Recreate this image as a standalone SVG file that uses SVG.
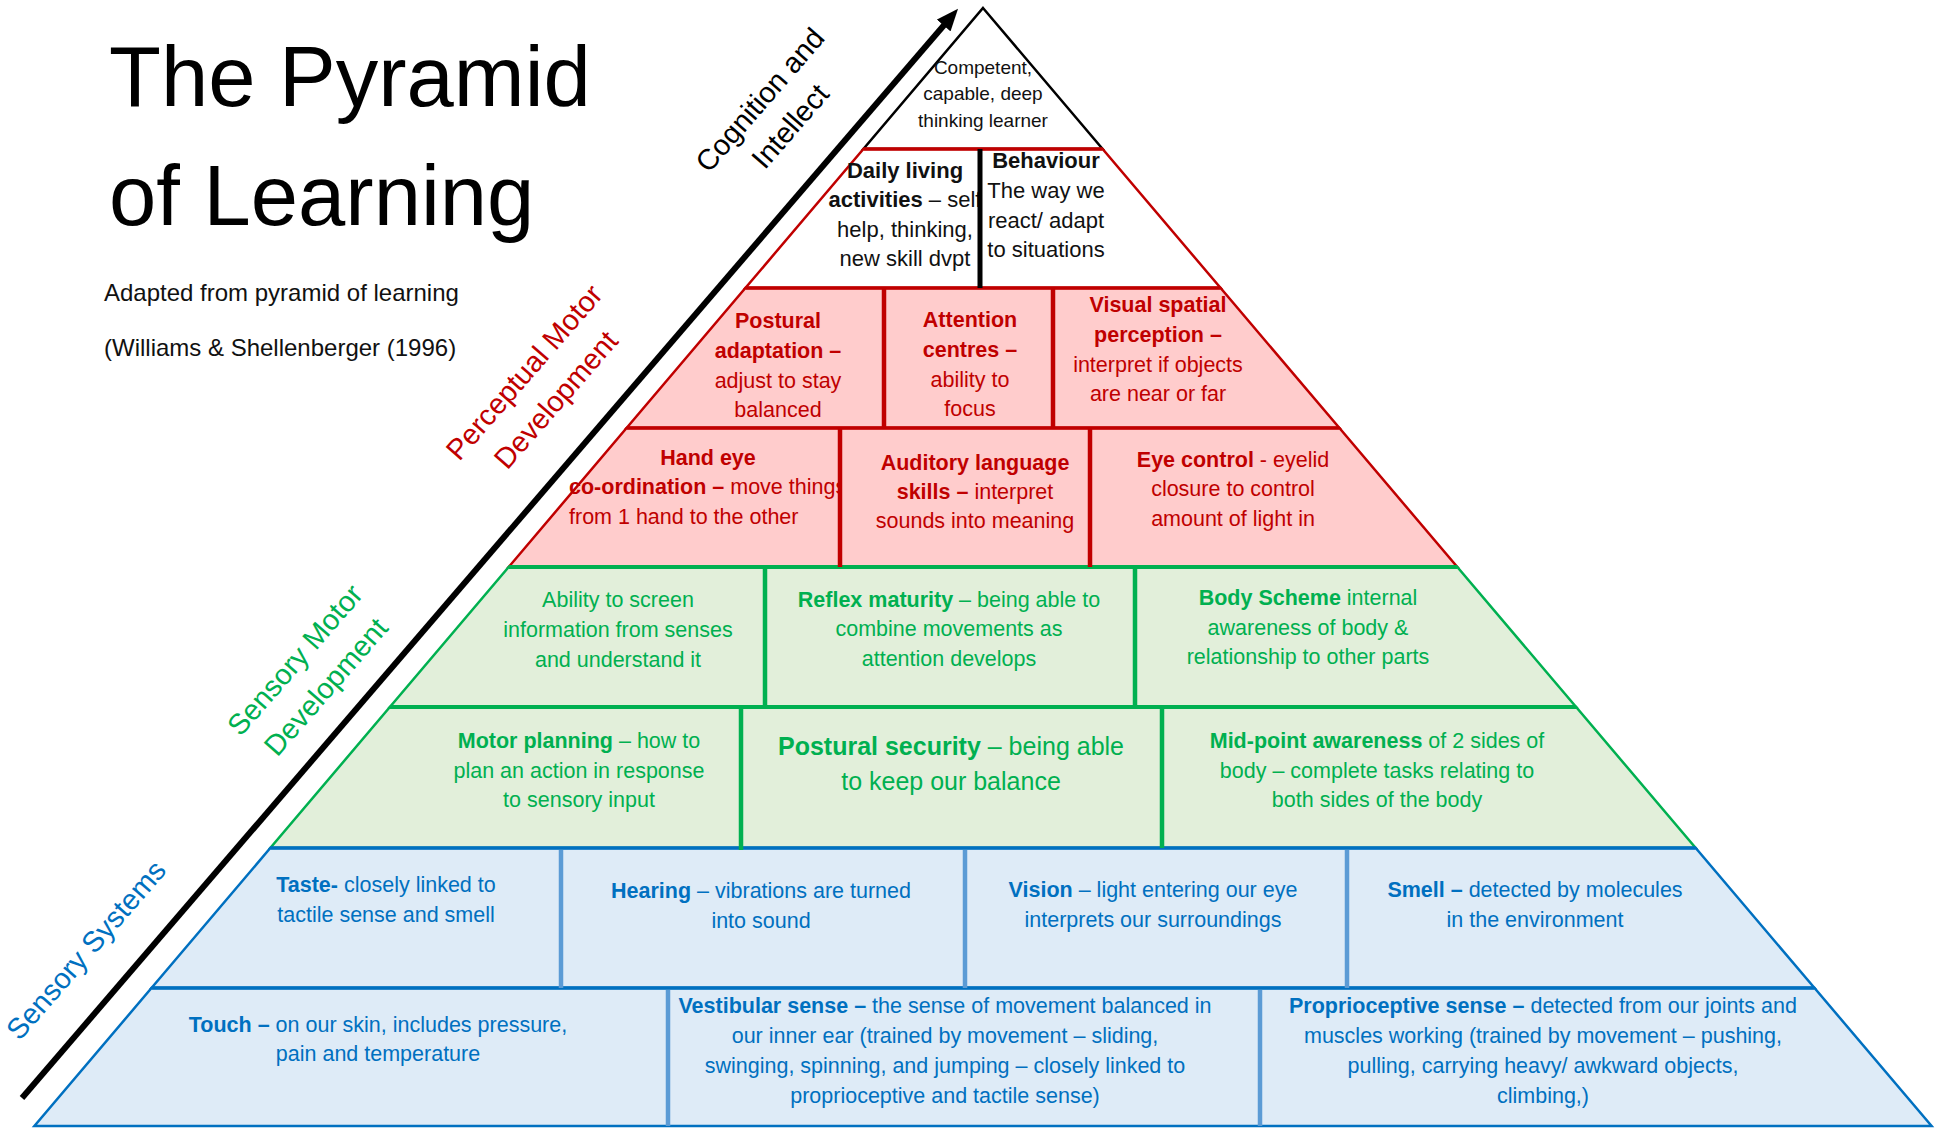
<svg xmlns="http://www.w3.org/2000/svg" width="1941" height="1128" viewBox="0 0 1941 1128">
<defs>
<style>
text{font-family:"Liberation Sans",Arial,sans-serif;}
.b{font-weight:bold;}
.t19{font-size:19px;fill:#111;text-anchor:middle;}
.t22{font-size:22px;fill:#111;text-anchor:middle;}
.red{font-size:21.5px;fill:#c00000;text-anchor:middle;}
.grn{font-size:21.5px;fill:#00b050;text-anchor:middle;}
.blu{font-size:21.5px;fill:#0070c0;text-anchor:middle;}
.st{text-anchor:start;}
.big{font-size:25px;}
.side{font-size:29px;text-anchor:middle;}
.edgeK{fill:#fff;stroke:#000;stroke-width:2.5;stroke-linejoin:miter;}
.edgeR{stroke:#c00000;stroke-width:2.5;}
.edgeG{fill:#e2efda;stroke:#00b050;stroke-width:2.5;}
.edgeB{fill:#deebf7;stroke:#0070c0;stroke-width:2.5;}
.hR{stroke:#c00000;stroke-width:3.5;}
.hG{stroke:#00b050;stroke-width:4;}
.hB{stroke:#0070c0;stroke-width:3.5;}
.vK{stroke:#000;stroke-width:5;}
.vR{stroke:#c00000;stroke-width:4.5;}
.vG{stroke:#00b050;stroke-width:4.5;}
.vB{stroke:#5b9bd5;stroke-width:4.5;}
</style>
<marker id="ah" markerUnits="userSpaceOnUse" markerWidth="22" markerHeight="18" viewBox="0 0 22 18" refX="2" refY="9" orient="auto">
<path d="M0,0 L22,9 L0,18 z" fill="#000"/>
</marker>
<clipPath id="clipHand"><rect x="500" y="430" width="340" height="135"/></clipPath>
</defs>
<rect width="1941" height="1128" fill="#fff"/>

<g id="title">
<text x="109" y="106" font-size="85" fill="#000">The Pyramid</text>
<text x="109" y="225" font-size="85" fill="#000">of Learning</text>
<text x="104" y="301" font-size="24" fill="#111">Adapted from pyramid of learning</text>
<text x="104" y="356" font-size="24" fill="#111">(Williams &amp; Shellenberger (1996)</text>
</g>

<g id="tiers">
<polygon id="tier-top" class="edgeK" points="983,8 1102.6,149 863.4,149"/>
<polygon id="tier-2" class="edgeR" fill="#fff" points="863.4,149 1102.6,149 1220.6,288 745.4,288"/>
<polygon id="tier-3" class="edgeR" fill="#ffcccc" points="745.4,288 1220.6,288 1339.4,428 626.6,428"/>
<polygon id="tier-4" class="edgeR" fill="#ffcccc" points="626.6,428 1339.4,428 1457.3,567 508.7,567"/>
<polygon id="tier-5" class="edgeG" points="508.7,567 1457.3,567 1576.1,707 389.9,707"/>
<polygon id="tier-6" class="edgeG" points="389.9,707 1576.1,707 1695.7,848 270.3,848"/>
<polygon id="tier-7" class="edgeB" points="270.3,848 1695.7,848 1814.5,988 151.5,988"/>
<polygon id="tier-8" class="edgeB" points="151.5,988 1814.5,988 1931.6,1126 34.4,1126"/>
<line class="hR" x1="863.4" y1="149" x2="1102.6" y2="149"/>
<line class="hR" x1="745.4" y1="288" x2="1220.6" y2="288"/>
<line class="hR" x1="626.6" y1="428" x2="1339.4" y2="428"/>
<line class="hG" x1="508.7" y1="567" x2="1457.3" y2="567"/>
<line class="hG" x1="389.9" y1="707" x2="1576.1" y2="707"/>
<line class="hB" x1="270.3" y1="848" x2="1695.7" y2="848"/>
<line class="hB" x1="151.5" y1="988" x2="1814.5" y2="988"/>
</g>

<g id="n-competent">
<text class="t19" x="983" y="74">Competent,</text>
<text class="t19" x="983" y="100">capable, deep</text>
<text class="t19" x="983" y="127">thinking learner</text>
</g>
<g id="n-daily">
<text class="t22 b" x="905" y="178">Daily living</text>
<text class="t22" x="905" y="207"><tspan class="b">activities</tspan> – self</text>
<text class="t22" x="905" y="237">help, thinking,</text>
<text class="t22" x="905" y="266">new skill dvpt</text>
</g>
<g id="n-behaviour">
<text class="t22 b" x="1046" y="168">Behaviour</text>
<text class="t22" x="1046" y="198">The way we</text>
<text class="t22" x="1046" y="228">react/ adapt</text>
<text class="t22" x="1046" y="257">to situations</text>
</g>

<g id="n-postural-adaptation">
<text class="red b" x="778" y="328">Postural</text>
<text class="red b" x="778" y="358">adaptation –</text>
<text class="red" x="778" y="388">adjust to stay</text>
<text class="red" x="778" y="417">balanced</text>
</g>
<g id="n-attention">
<text class="red b" x="970" y="327">Attention</text>
<text class="red b" x="970" y="357">centres –</text>
<text class="red" x="970" y="387">ability to</text>
<text class="red" x="970" y="416">focus</text>
</g>
<g id="n-visual">
<text class="red b" x="1158" y="312">Visual spatial</text>
<text class="red b" x="1158" y="342">perception –</text>
<text class="red" x="1158" y="372">interpret if objects</text>
<text class="red" x="1158" y="401">are near or far</text>
</g>
<g id="n-handeye" clip-path="url(#clipHand)">
<text class="red b" x="708" y="465">Hand eye</text>
<text class="red st" x="569" y="494"><tspan class="b">co-ordination –</tspan> move things</text>
<text class="red st" x="569" y="524">from 1 hand to the other</text>
</g>
<g id="n-auditory">
<text class="red b" x="975" y="470">Auditory language</text>
<text class="red" x="975" y="499"><tspan class="b">skills –</tspan> interpret</text>
<text class="red" x="975" y="528">sounds into meaning</text>
</g>
<g id="n-eye">
<text class="red" x="1233" y="467"><tspan class="b">Eye control</tspan> - eyelid</text>
<text class="red" x="1233" y="496">closure to control</text>
<text class="red" x="1233" y="526">amount of light in</text>
</g>

<g id="n-screen">
<text class="grn" x="618" y="607">Ability to screen</text>
<text class="grn" x="618" y="637">information from senses</text>
<text class="grn" x="618" y="667">and understand it</text>
</g>
<g id="n-reflex">
<text class="grn" x="949" y="607"><tspan class="b">Reflex maturity</tspan> – being able to</text>
<text class="grn" x="949" y="636">combine movements as</text>
<text class="grn" x="949" y="666">attention develops</text>
</g>
<g id="n-body">
<text class="grn" x="1308" y="605"><tspan class="b">Body Scheme</tspan> internal</text>
<text class="grn" x="1308" y="635">awareness of body &amp;</text>
<text class="grn" x="1308" y="664">relationship to other parts</text>
</g>
<g id="n-motor">
<text class="grn" x="579" y="748"><tspan class="b">Motor planning</tspan> – how to</text>
<text class="grn" x="579" y="778">plan an action in response</text>
<text class="grn" x="579" y="807">to sensory input</text>
</g>
<g id="n-postural-security">
<text class="grn big" x="951" y="755"><tspan class="b">Postural security</tspan> – being able</text>
<text class="grn big" x="951" y="790">to keep our balance</text>
</g>
<g id="n-midpoint">
<text class="grn" x="1377" y="748"><tspan class="b">Mid-point awareness</tspan> of 2 sides of</text>
<text class="grn" x="1377" y="778">body – complete tasks relating to</text>
<text class="grn" x="1377" y="807">both sides of the body</text>
</g>

<g id="n-taste">
<text class="blu" x="386" y="892"><tspan class="b">Taste-</tspan> closely linked to</text>
<text class="blu" x="386" y="922">tactile sense and smell</text>
</g>
<g id="n-hearing">
<text class="blu" x="761" y="898"><tspan class="b">Hearing</tspan> – vibrations are turned</text>
<text class="blu" x="761" y="928">into sound</text>
</g>
<g id="n-vision">
<text class="blu" x="1153" y="897"><tspan class="b">Vision</tspan> – light entering our eye</text>
<text class="blu" x="1153" y="927">interprets our surroundings</text>
</g>
<g id="n-smell">
<text class="blu" x="1535" y="897"><tspan class="b">Smell –</tspan> detected by molecules</text>
<text class="blu" x="1535" y="927">in the environment</text>
</g>
<g id="n-touch">
<text class="blu" x="378" y="1032"><tspan class="b">Touch –</tspan> on our skin, includes pressure,</text>
<text class="blu" x="378" y="1061">pain and temperature</text>
</g>
<g id="n-vestibular">
<text class="blu" x="945" y="1013"><tspan class="b">Vestibular sense –</tspan> the sense of movement balanced in</text>
<text class="blu" x="945" y="1043">our inner ear (trained by movement – sliding,</text>
<text class="blu" x="945" y="1073">swinging, spinning, and jumping – closely linked to</text>
<text class="blu" x="945" y="1103">proprioceptive and tactile sense)</text>
</g>
<g id="n-proprioceptive">
<text class="blu" x="1543" y="1013"><tspan class="b">Proprioceptive sense –</tspan> detected from our joints and</text>
<text class="blu" x="1543" y="1043">muscles working (trained by movement – pushing,</text>
<text class="blu" x="1543" y="1073">pulling, carrying heavy/ awkward objects,</text>
<text class="blu" x="1543" y="1103">climbing,)</text>
</g>

<g id="dividers">
<line class="vK" x1="980" y1="149" x2="980" y2="288"/>
<line class="vR" x1="884" y1="288" x2="884" y2="428"/>
<line class="vR" x1="1053" y1="288" x2="1053" y2="428"/>
<line class="vR" x1="840" y1="428" x2="840" y2="567"/>
<line class="vR" x1="1090" y1="428" x2="1090" y2="567"/>
<line class="vG" x1="765" y1="567" x2="765" y2="707"/>
<line class="vG" x1="1135" y1="567" x2="1135" y2="707"/>
<line class="vG" x1="741" y1="707" x2="741" y2="850"/>
<line class="vG" x1="1162" y1="707" x2="1162" y2="848"/>
<line class="vB" x1="561" y1="850" x2="561" y2="988"/>
<line class="vB" x1="965" y1="850" x2="965" y2="988"/>
<line class="vB" x1="1347" y1="850" x2="1347" y2="988"/>
<line class="vB" x1="668" y1="990" x2="668" y2="1126"/>
<line class="vB" x1="1260" y1="990" x2="1260" y2="1126"/>
</g>

<g id="connectors">
<path d="M22,1098 L945,24" stroke="#000" stroke-width="6" fill="none" marker-end="url(#ah)"/>
</g>

<g id="labels">
<g id="lbl-cognition" transform="translate(775,113) rotate(-49)">
<text class="side" fill="#000" x="0" y="-10">Cognition and</text>
<text class="side" fill="#000" x="0" y="30">Intellect</text>
</g>
<g id="lbl-perceptual" transform="translate(540,386) rotate(-49)">
<text class="side" fill="#c00000" x="0" y="-11">Perceptual Motor</text>
<text class="side" fill="#c00000" x="0" y="31">Development</text>
</g>
<g id="lbl-sensorymotor" transform="translate(310,673) rotate(-49)">
<text class="side" fill="#00b050" x="0" y="-10">Sensory Motor</text>
<text class="side" fill="#00b050" x="0" y="31">Development</text>
</g>
<g id="lbl-sensory" transform="translate(86,950) rotate(-49)">
<text class="side" fill="#0070c0" x="0" y="10">Sensory Systems</text>
</g>
</g>
</svg>
